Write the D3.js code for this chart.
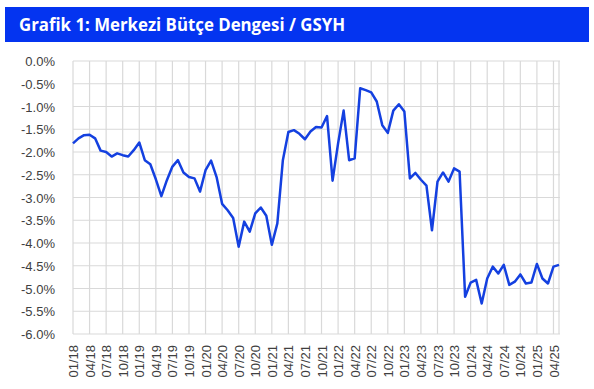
<!DOCTYPE html>
<html>
<head>
<meta charset="utf-8">
<script src="https://cdn.jsdelivr.net/npm/d3@7"></script>
<style>
  body { margin: 0; background: #fff; }
  svg { display: block; }
</style>
</head>
<body>
<svg id="svg"></svg>
<script>
// monthly budget balance / GDP, 01/18 .. 05/25
const startYear = 2018;
const balance = [
  -1.81, -1.70, -1.63, -1.62, -1.70, -1.97, -2.00, -2.10, -2.03, -2.07, -2.10, -1.96,
  -1.79, -2.18, -2.27, -2.60, -2.97, -2.62, -2.32, -2.18, -2.45, -2.55, -2.58, -2.87,
  -2.40, -2.19, -2.55, -3.14, -3.28, -3.45, -4.08, -3.53, -3.75, -3.35, -3.22, -3.40,
  -4.04, -3.57, -2.18, -1.56, -1.52, -1.60, -1.72, -1.55, -1.45, -1.46, -1.21, -2.63,
  -1.81, -1.09, -2.18, -2.14, -0.60, -0.64, -0.69, -0.89, -1.41, -1.58, -1.09, -0.95,
  -1.11, -2.58, -2.46, -2.61, -2.74, -3.72, -2.65, -2.45, -2.65, -2.36, -2.43, -5.18,
  -4.87, -4.81, -5.33, -4.78, -4.52, -4.67, -4.48, -4.92, -4.85, -4.69, -4.89, -4.87,
  -4.46, -4.78, -4.89, -4.52, -4.48
];
const yTicks = [0, -0.5, -1, -1.5, -2, -2.5, -3, -3.5, -4, -4.5, -5, -5.5, -6];
// quarter labels: month index 0, 3, 6 ... 87
const xTickIdx = d3.range(0, 88, 3);
const title = "Grafik 1: Merkezi Bütçe Dengesi / GSYH";

let width = 594;
let height = 389;
let svg = d3.select("#svg").attr("width", width).attr("height", height);

const plotLeft = 73, plotRight = 559, plotTop = 61, plotBottom = 334;

let x = d3.scaleLinear().domain([0, balance.length - 1]).range([plotLeft, plotRight]);
let y = d3.scaleLinear().domain([-6, 0]).range([plotBottom, plotTop]);

// title bar
svg.append("rect")
    .attr("x", 5).attr("y", 7)
    .attr("width", 584).attr("height", 35)
    .attr("fill", "#0434f0");
svg.append("text")
    .attr("x", 19).attr("y", 31)
    .attr("fill", "#fff")
    .attr("font-family", "'Open Sans', sans-serif")
    .attr("font-weight", "bold")
    .attr("font-size", 18)
    .attr("textLength", 326)
    .attr("lengthAdjust", "spacingAndGlyphs")
    .text(title);

// grid
svg.append("g")
    .selectAll("line")
    .data(yTicks)
    .join("line")
    .attr("x1", plotLeft).attr("x2", x(balance.length - 1) + 1)
    .attr("y1", d => y(d)).attr("y2", d => y(d))
    .attr("stroke", "#d9d9d9").attr("stroke-width", 1.2);

svg.append("g")
    .selectAll("line")
    .data(xTickIdx.concat([balance.length - 1]))
    .join("line")
    .attr("x1", d => x(d)).attr("x2", d => x(d))
    .attr("y1", plotTop).attr("y2", plotBottom)
    .attr("stroke", "#d9d9d9").attr("stroke-width", 1.2);

// y axis labels
let yAxis = svg.append("g")
    .attr("transform", `translate(${plotLeft - 15},0)`)
    .call(d3.axisLeft(y).tickValues(yTicks).tickSize(0).tickFormat(d => d3.format(".1f")(d).replace("−", "-") + "%"));
yAxis.select(".domain").remove();
yAxis.selectAll("text")
    .attr("font-family", "'Liberation Sans', Arial, sans-serif")
    .attr("font-size", 13)
    .attr("fill", "#404040")
    .attr("dy", "0.35em");

// x axis labels (rotated)
let xAxis = svg.append("g")
    .attr("transform", `translate(0,${plotBottom})`)
    .call(d3.axisBottom(x).tickValues(xTickIdx).tickSize(0).tickFormat(i => {
        const m = i % 12 + 1, yr = (startYear + Math.floor(i / 12)) % 100;
        return d3.format("02d")(m) + "/" + d3.format("02d")(yr);
    }));
xAxis.select(".domain").remove();
xAxis.selectAll("text")
    .attr("font-family", "'Liberation Sans', Arial, sans-serif")
    .attr("font-size", 13)
    .attr("fill", "#404040")
    .attr("transform", "rotate(-90)")
    .attr("text-anchor", "end")
    .attr("x", -11)
    .attr("y", 0)
    .attr("dy", "0.35em");

// line
svg.append("path")
    .datum(balance)
    .attr("fill", "none")
    .attr("stroke", "#1440e0")
    .attr("stroke-width", 2.5)
    .attr("stroke-linejoin", "round")
    .attr("d", d3.line().x((d, i) => x(i)).y(d => y(d)));
</script>
</body>
</html>
